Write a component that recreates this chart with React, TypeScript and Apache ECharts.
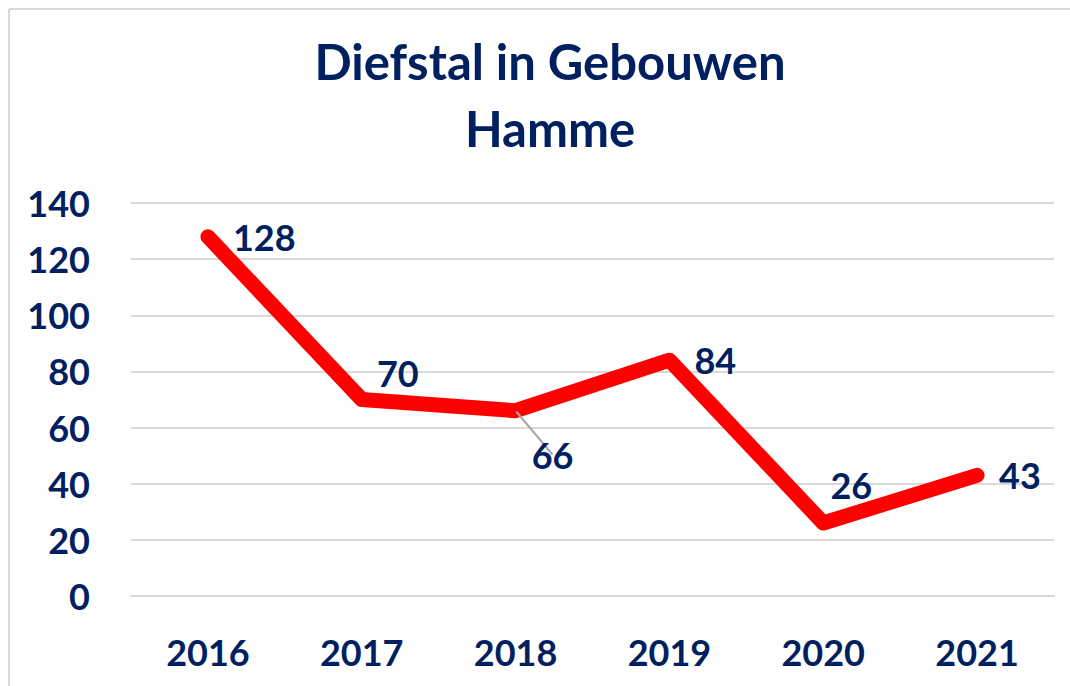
import React, { useEffect, useRef } from "react";
import * as echarts from "echarts";

const years = ["2016", "2017", "2018", "2019", "2020", "2021"];
const values = [128, 70, 66, 84, 26, 43];
const titleLines = ["Diefstal in Gebouwen", "Hamme"];

const NAVY = "#002060";
const FONT = "Lato, 'Open Sans', sans-serif";

export default function App() {
  const ref = useRef<HTMLDivElement>(null);
  useEffect(() => {
    if (!ref.current) return;
    const chart = echarts.init(ref.current, null, { renderer: "svg" });
    const labelCfg: any[] = [
      { position: "right", distance: 24, offset: [0, 0] },
      { position: "top", distance: 8, offset: [36, 0] },
      { position: "bottom", distance: 10, offset: [37, 15] },
      { position: "right", distance: 24, offset: [0, 0] },
      { position: "top", distance: 8, offset: [28, -11] },
      { position: "right", distance: 21, offset: [0, 0] },
    ];
    chart.setOption({
      animation: false,
      backgroundColor: "#ffffff",
      title: {
        text: titleLines.join("\n"),
        left: 545,
        top: 22,
        textAlign: "center",
        textStyle: {
          color: NAVY,
          fontFamily: FONT,
          fontWeight: "bold",
          fontSize: 49,
          lineHeight: 67,
        },
      },
      graphic: [
        { type: "line", shape: { x1: 9, y1: 9, x2: 1070, y2: 9 }, style: { stroke: "#d9d9d9", lineWidth: 2 } },
        { type: "line", shape: { x1: 9, y1: 9, x2: 9, y2: 686 }, style: { stroke: "#d9d9d9", lineWidth: 2 } },
      ],
      grid: { left: 131, right: 16, top: 203, bottom: 90 },
      xAxis: {
        type: "category",
        data: years,
        boundaryGap: true,
        axisLine: { show: true, lineStyle: { color: "#d9d9d9", width: 2 } },
        axisTick: { show: false },
        axisLabel: { color: NAVY, fontFamily: FONT, fontWeight: "bold", fontSize: 36, margin: 38 },
      },
      yAxis: {
        type: "value",
        min: 0,
        max: 140,
        interval: 20,
        axisLine: { show: false },
        axisTick: { show: false },
        splitLine: { lineStyle: { color: "#d9d9d9", width: 2 } },
        axisLabel: { color: NAVY, fontFamily: FONT, fontWeight: "bold", fontSize: 36, margin: 41 },
      },
      series: [
        {
          type: "line",
          data: values.map((v, i) => ({
            value: v,
            label: labelCfg[i],
            labelLine: i === 2 ? { show: true, lineStyle: { color: "#a6a6a6", width: 2 } } : undefined,
          })),
          symbol: "circle",
          symbolSize: 2,
          showSymbol: true,
          itemStyle: { color: "#ff0000" },
          lineStyle: { color: "#ff0000", width: 15, cap: "round", join: "round" },
          label: {
            show: true,
            color: NAVY,
            fontFamily: FONT,
            fontWeight: "bold",
            fontSize: 36,
          },
          labelLine: { show: false },
        },
      ],
    });
    return () => chart.dispose();
  }, []);
  return (
    <div
      ref={ref}
      style={{ position: "absolute", left: 0, top: 0, width: 1070, height: 686 }}
    />
  );
}
